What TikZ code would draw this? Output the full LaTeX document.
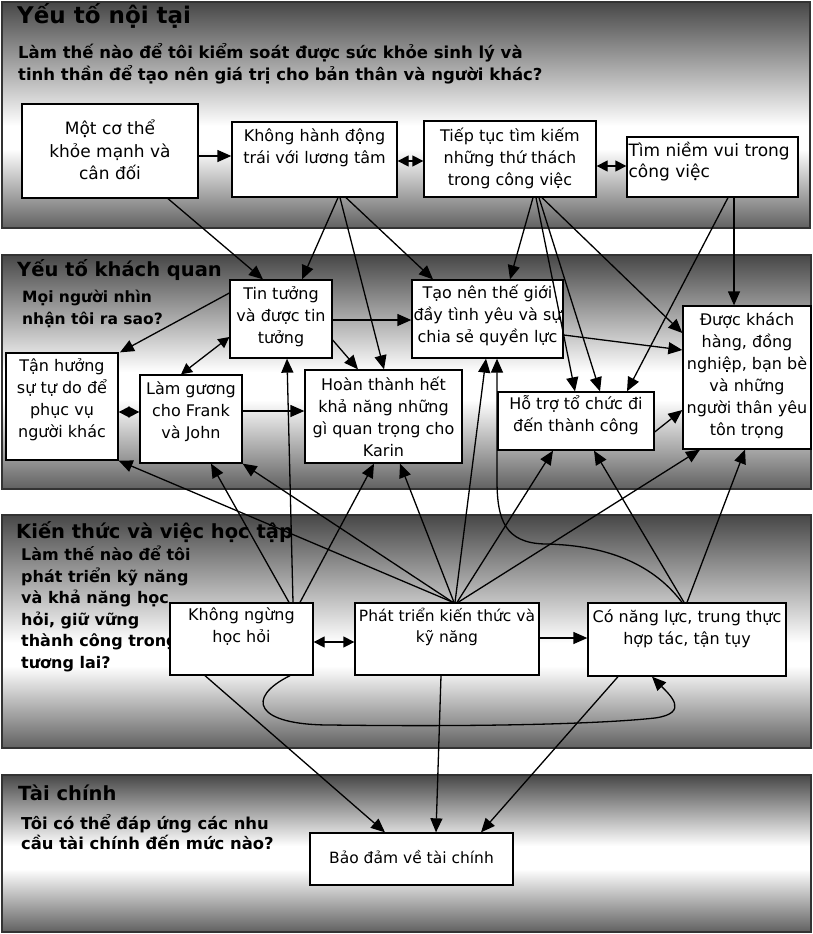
\documentclass[tikz,border=0pt]{standalone}
\usepackage{fontspec}
\setmainfont{DejaVu Sans}
\usetikzlibrary{arrows.meta,calc}
\colorlet{ptop}{black!72}
\colorlet{pbot}{black!62}
\begin{document}
\begin{tikzpicture}[x=1pt,y=-1pt,
 box/.style={draw=black,line width=1.3pt,fill=white,inner sep=0pt},
 lbl/.style={font=\fontsize{16}{22}\selectfont,align=center,inner sep=0pt,text=black},
 ttl/.style={font=\bfseries\fontsize{19.5}{23}\selectfont,anchor=west,inner sep=0pt},
 qst/.style={font=\bfseries\fontsize{16.5}{22}\selectfont,align=left,anchor=west,inner sep=0pt},
 pb/.style={draw=black!80,line width=1.6pt},
 tip/.tip={Triangle[length=14pt,width=12pt]},
 dtip/.tip={Triangle[length=11pt,width=11pt]},
 arr/.style={draw=black,line width=1.3pt,-tip},
 darr/.style={draw=black,line width=1.3pt,dtip-dtip}]
\useasboundingbox (0,0) rectangle (813,934);
\fill[white] (0,0) rectangle (813,934);
% panel 1
\shade[top color=ptop,bottom color=white] (2,2) rectangle (810,126);
\fill[white] (2,126) rectangle (810,149);
\shade[top color=white,bottom color=pbot] (2,149) rectangle (810,228);
\draw[pb] (2,2) rectangle (810,228);
% panel 2
\shade[top color=ptop,bottom color=white] (2,255) rectangle (811,372);
\fill[white] (2,372) rectangle (811,400);
\shade[top color=white,bottom color=pbot] (2,400) rectangle (811,489);
\draw[pb] (2,255) rectangle (811,489);
% panel 3
\shade[top color=ptop,bottom color=white] (2,515) rectangle (811,643);
\fill[white] (2,643) rectangle (811,666);
\shade[top color=white,bottom color=pbot] (2,666) rectangle (811,748);
\draw[pb] (2,515) rectangle (811,748);
% panel 4
\shade[top color=ptop,bottom color=white] (2,775) rectangle (811,846);
\fill[white] (2,846) rectangle (811,869);
\shade[top color=white,bottom color=pbot] (2,869) rectangle (811,932);
\draw[pb] (2,775) rectangle (811,932);
% panel texts
\node[ttl,font=\bfseries\fontsize{23}{26}\selectfont] (t1) at (17,16) {Yếu tố nội tại};
\node[qst] (q1) at (18,64) {Làm thế nào để tôi kiểm soát được sức khỏe sinh lý và\\tinh thần để tạo nên giá trị cho bản thân và người khác?};
\node[ttl] (t2) at (17,270) {Yếu tố khách quan};
\node[qst,font=\bfseries\fontsize{15.5}{22}\selectfont] (q2) at (22,309) {Mọi người nhìn\\nhận tôi ra sao?};
\node[ttl] (t3) at (16,532) {Kiến thức và việc học tập};
\node[qst,font=\bfseries\fontsize{16}{21.6}\selectfont] (q3) at (21,609) {Làm thế nào để tôi\\phát triển kỹ năng\\và khả năng học\\hỏi, giữ vững\\thành công trong\\tương lai?};
\node[ttl] (t4) at (18,793) {Tài chính};
\node[qst,font=\bfseries\fontsize{16.4}{20.5}\selectfont] (q4) at (21,832) {Tôi có thể đáp ứng các nhu\\cầu tài chính đến mức nào?};
% boxes
\node[box,minimum width=176pt,minimum height=94pt,label={[lbl,font=\fontsize{17}{22.5}\selectfont,yshift=1pt]center:{Một cơ thể\\khỏe mạnh và\\cân đối}}] (b1) at (110,151) {};
\node[box,minimum width=165pt,minimum height=75pt,label={[lbl,yshift=11.5pt]center:{Không hành động\\trái với lương tâm}}] (b2) at (314.5,159.5) {};
\node[box,minimum width=172pt,minimum height=76pt,label={[lbl,yshift=1pt]center:{Tiếp tục tìm kiếm\\những thứ thách\\trong công việc}}] (b3) at (510,159) {};
\node[box,minimum width=171pt,minimum height=60pt,label={[lbl,font=\fontsize{17}{21}\selectfont,align=left,anchor=west,xshift=2pt,yshift=5pt]west:{Tìm niềm vui trong\\công việc}}] (b4) at (712.5,167) {};
\node[box,minimum width=102pt,minimum height=78pt,label={[lbl,yshift=2pt]center:{Tin tưởng\\và được tin\\tưởng}}] (c1) at (281,319) {};
\node[box,minimum width=151pt,minimum height=78pt,label={[lbl,yshift=4pt]center:{Tạo nên thế giới\\đầy tình yêu và sự\\chia sẻ quyền lực}}] (c2) at (487.5,319) {};
\node[box,minimum width=128pt,minimum height=143pt,label={[lbl,yshift=1.5pt]center:{Được khách\\hàng, đồng\\nghiệp, bạn bè\\và những\\người thân yêu\\tôn trọng}}] (c3) at (747,377.5) {};
\node[box,minimum width=112pt,minimum height=107pt,label={[lbl,yshift=6.5pt]center:{Tận hưởng\\sự tự do để\\phục vụ\\người khác}}] (c4) at (62,406.5) {};
\node[box,minimum width=102pt,minimum height=88pt,label={[lbl,yshift=7pt]center:{Làm gương\\cho Frank\\và John}}] (c5) at (191,419) {};
\node[box,minimum width=157pt,minimum height=93pt,label={[lbl]center:{Hoàn thành hết\\khả năng những\\gì quan trọng cho\\Karin}}] (c6) at (383.5,416.5) {};
\node[box,minimum width=156pt,minimum height=58pt,label={[lbl,yshift=6pt]center:{Hỗ trợ tổ chức đi\\đến thành công}}] (c7) at (576,421) {};
\node[box,minimum width=143pt,minimum height=72pt,label={[lbl,yshift=12pt]center:{Không ngừng\\học hỏi}}] (d1) at (241.5,639) {};
\node[box,minimum width=184pt,minimum height=72pt,label={[lbl,font=\fontsize{15.5}{21}\selectfont,yshift=12pt]center:{Phát triển kiến thức và\\kỹ năng}}] (d2) at (447,639) {};
\node[box,minimum width=198pt,minimum height=73pt,label={[lbl,yshift=10.5pt]center:{Có năng lực, trung thực\\hợp tác, tận tụy}}] (d3) at (687,639.5) {};
\node[box,minimum width=203pt,minimum height=52pt,label={[lbl,font=\fontsize{15.5}{20}\selectfont,yshift=2pt]center:{Bảo đảm về tài chính}}] (e1) at (411.5,859) {};
% panel 1 connectors
\draw[arr] (b1.east |- 0,156) -- (b2.west |- 0,156);
\draw[darr] (b2.east |- 0,161) -- (b3.west |- 0,161);
\draw[darr] (b3.east |- 0,166) -- (b4.west |- 0,166);
% panel 1 -> panel 2
\draw[arr] (168,0 |- b1.south) -- (263,0 |- c1.north);
\draw[arr] (338,0 |- b2.south) -- (302,0 |- c1.north);
\draw[arr] (340,0 |- b2.south) -- (384,0 |- c6.north);
\draw[arr] (346,0 |- b2.south) -- (433,0 |- c2.north);
\draw[arr] (533,0 |- b3.south) -- (510,0 |- c2.north);
\draw[arr] (536,0 |- b3.south) -- (575,0 |- c7.north);
\draw[arr] (539,0 |- b3.south) -- (600,0 |- c7.north);
\draw[arr] (542,0 |- b3.south) -- (c3.west |- 0,333);
\draw[arr] (728,0 |- b4.south) -- (627,0 |- c7.north);
\draw[arr] (734,0 |- b4.south) -- (734,0 |- c3.north);
% panel 2 connectors
\draw[arr] (c1.west |- 0,293) -- (120,0 |- c4.north);
\draw[darr] (c1.west |- 0,337) -- (181,0 |- c5.north);
\draw[arr] (c1.east |- 0,320) -- (c2.west |- 0,320);
\draw[arr] (c1.east |- 0,340) -- (358,0 |- c6.north);
\draw[darr] (c4.east |- 0,412) -- (c5.west |- 0,412);
\draw[arr] (c5.east |- 0,411) -- (c6.west |- 0,411);
\draw[arr] (c2.east |- 0,335) -- (c3.west |- 0,350);
\draw[arr] (c7.east |- 0,432) -- (c3.west |- 0,410);
% panel 3 -> panel 2
\draw[arr] (289,0 |- d1.north) -- (211,0 |- c5.south);
\draw[arr] (293,0 |- d1.north) -- (287,0 |- c1.south);
\draw[arr] (300,0 |- d1.north) -- (374,0 |- c6.south);
\draw[arr] (453,0 |- d2.north) -- (c4.south east);
\draw[arr] (453,0 |- d2.north) -- (c5.south east);
\draw[arr] (454,0 |- d2.north) -- (400,0 |- c6.south);
\draw[arr] (455,0 |- d2.north) -- (486,0 |- c2.south);
\draw[arr] (457,0 |- d2.north) -- (553,0 |- c7.south);
\draw[arr] (458,0 |- d2.north) -- (700,0 |- c3.south);
\draw[arr] (684,0 |- d3.north) -- (594,0 |- c7.south);
\draw[arr] (687,0 |- d3.north) -- (745,0 |- c3.south);
\draw[arr] (682,0 |- d3.north) .. controls (650,560) and (600,545) .. (545,544) .. controls (505,543) and (497,520) .. (497,480) -- (497,0 |- c2.south);
% panel 3 connectors
\draw[darr] (d1.east |- 0,642) -- (d2.west |- 0,642);
\draw[arr] (d2.east |- 0,638) -- (d3.west |- 0,638);
\draw[arr] (290,0 |- d1.south) .. controls (245,698) and (255,725) .. (330,725) .. controls (480,727) and (600,724) .. (655,718) .. controls (690,713) and (670,695) .. (652,0 |- d3.south);
% panel 3 -> panel 4
\draw[arr] (205,0 |- d1.south) -- (385,0 |- e1.north);
\draw[arr] (441,0 |- d2.south) -- (436,0 |- e1.north);
\draw[arr] (618,0 |- d3.south) -- (481,0 |- e1.north);
\end{tikzpicture}
\end{document}
